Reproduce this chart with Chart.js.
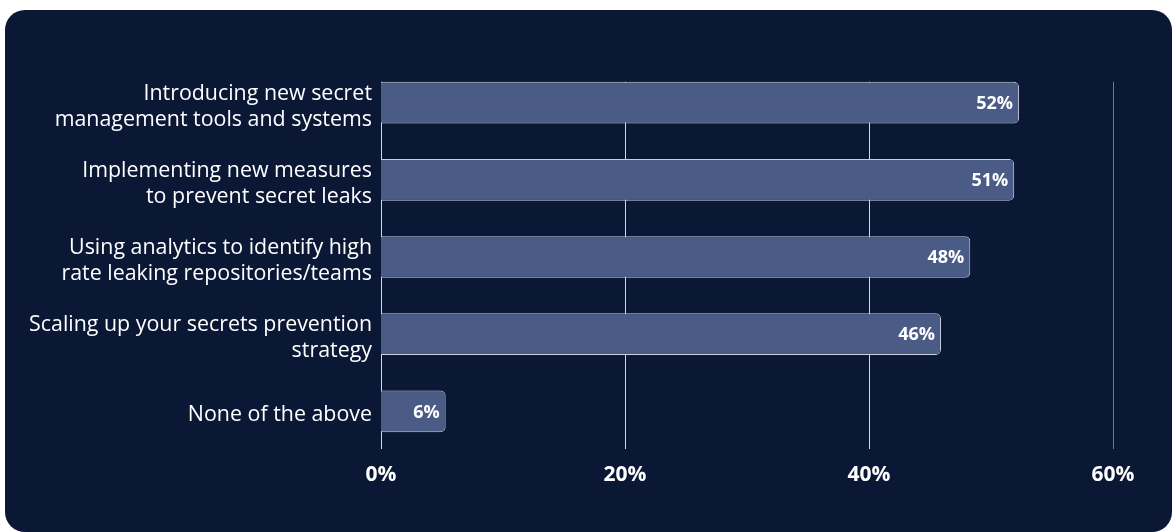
<!DOCTYPE html>
<html>
<head>
<meta charset="utf-8">
<script src="https://cdn.jsdelivr.net/npm/chart.js@4"></script>
<style>
  html, body { margin: 0; padding: 0; background: #ffffff; }
  #card {
    position: absolute; left: 5px; top: 10px; width: 1167px; height: 522px;
    background: #0a1835; border-radius: 20px;
  }
  #wrap { position: absolute; left: 0; top: 0; width: 1174px; height: 532px; }
</style>
</head>
<body>
<div id="card"></div>
<div id="wrap"><canvas id="chart" width="1174" height="532"></canvas></div>
<script>
// categories, two lines each
let categories = [
    ["Introducing new secret", "management tools and systems"],
    ["Implementing new measures", "to prevent secret leaks"],
    ["Using analytics to identify high", "rate leaking repositories/teams"],
    ["Scaling up your secrets prevention", "strategy"],
    ["None of the above"]
];
// bar lengths (percent)
let values = [52.3, 51.9, 48.3, 45.9, 5.3];
// labels printed on the bars
let valueLabels = ["52%", "51%", "48%", "46%", "6%"];
let xTicks = [0, 20, 40, 60];

const labelFont = "'Open Sans', Lato, sans-serif";

// grid lines start at the top of the first bar, like the original
const gridLines = {
    id: "gridLines",
    beforeDatasetsDraw(c) {
        let ctx = c.ctx;
        let x = c.scales.x;
        let area = c.chartArea;
        let first = c.getDatasetMeta(0).data[0];
        let top = first.y - first.height / 2;
        ctx.save();
        ctx.lineWidth = 1;
        xTicks.forEach(t => {
            let px = Math.round(x.getPixelForValue(t)) + 0.5;
            ctx.strokeStyle = t === 60 ? "#6b7898" : "#d3d9e4";
            ctx.beginPath();
            ctx.moveTo(px, top);
            ctx.lineTo(px, area.bottom - 1);
            ctx.stroke();
        });
        ctx.restore();
    }
};

const barLabels = {
    id: "barLabels",
    afterDatasetsDraw(c) {
        let ctx = c.ctx;
        ctx.save();
        ctx.fillStyle = "#ffffff";
        ctx.font = "bold 18px " + labelFont;
        ctx.textAlign = "right";
        ctx.textBaseline = "middle";
        c.getDatasetMeta(0).data.forEach((bar, i) => {
            ctx.fillText(valueLabels[i], bar.x - 6, bar.y + 1);
        });
        ctx.restore();
    }
};

let chart = new Chart(document.getElementById("chart").getContext("2d"), {
    type: "bar",
    data: {
        labels: categories,
        datasets: [{
            data: values,
            backgroundColor: "#4a5c86",
            borderColor: "#c9d0dd",
            borderWidth: 1,
            borderRadius: 5,
            borderSkipped: "start",
            barPercentage: 0.9,
            categoryPercentage: 0.6
        }]
    },
    options: {
        indexAxis: "y",
        responsive: false,
        animation: false,
        layout: { padding: { left: 0, right: 61, top: 64, bottom: 0 } },
        plugins: {
            legend: { display: false },
            tooltip: { enabled: false }
        },
        scales: {
            x: {
                min: 0,
                max: 60,
                afterBuildTicks: (s) => { s.ticks = xTicks.map(v => ({ value: v })); },
                afterFit: (s) => { s.height = 82; },
                grid: { display: false, drawTicks: false },
                border: { display: false },
                ticks: {
                    color: "#ffffff",
                    font: { family: labelFont, size: 21, weight: "bold" },
                    padding: 12,
                    callback: (v) => v + "%"
                }
            },
            y: {
                afterFit: (s) => { s.width = 381; },
                grid: { display: false, drawTicks: false },
                border: { display: false },
                ticks: {
                    color: "#ffffff",
                    font: { family: labelFont, size: 21.4, lineHeight: 1.22 },
                    padding: 9,
                    labelOffset: 4
                }
            }
        }
    },
    plugins: [gridLines, barLabels]
});
</script>
</body>
</html>
